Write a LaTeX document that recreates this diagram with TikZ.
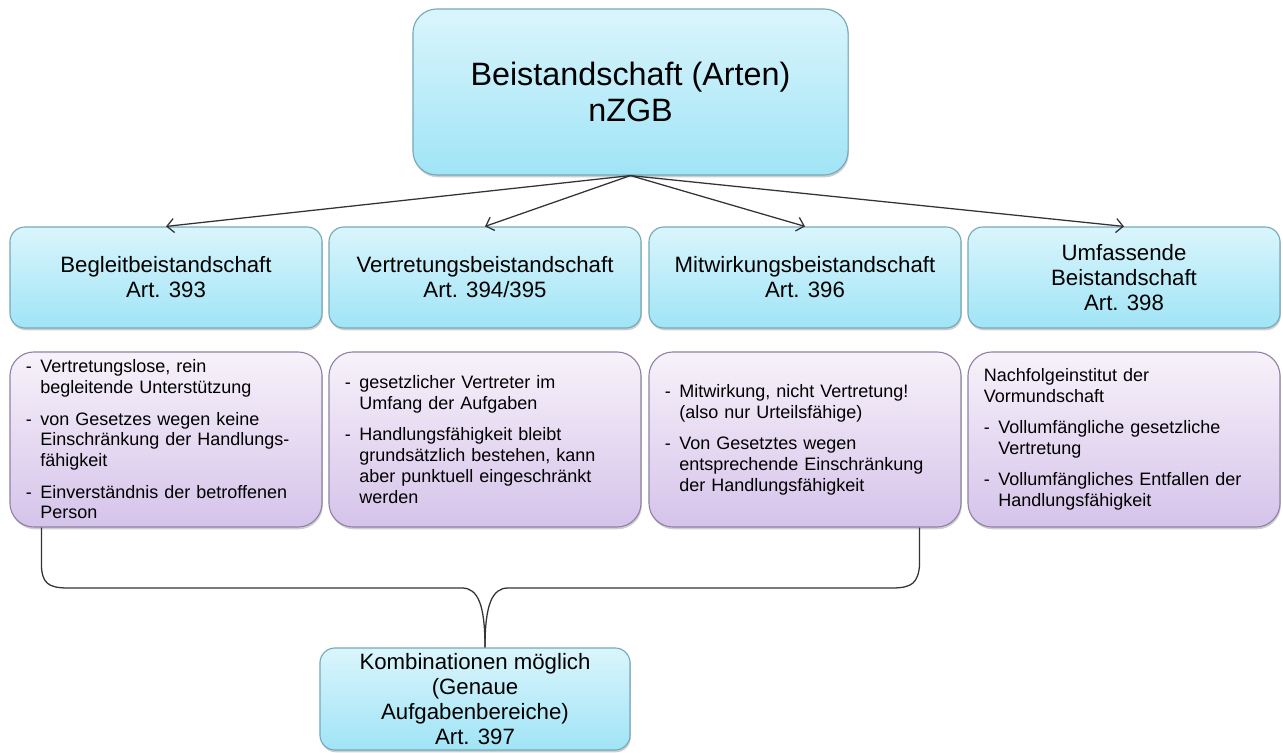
\documentclass[tikz,border=0pt]{standalone}
\usepackage{fontspec}
\setmainfont{Liberation Sans}
\usetikzlibrary{arrows.meta,calc,positioning,shadows}
\definecolor{hdtop}{HTML}{DAF5FC}
\definecolor{hdbot}{HTML}{A0E4F6}
\definecolor{hdline}{HTML}{76A9B7}
\definecolor{pptop}{HTML}{F7F2FA}
\definecolor{ppbot}{HTML}{D5C3EA}
\definecolor{ppline}{HTML}{9082A6}
\definecolor{strich}{HTML}{333333}
\newcommand\dashline[1]{\hangindent=0.8em\hangafter=1\noindent\makebox[0.8em][l]{-}#1\par}
\newcommand\itemgap{\vspace{7.5pt}}
\tikzset{
  schatten/.style={drop shadow={shadow xshift=0.6pt,shadow yshift=-1.6pt,opacity=0.35,fill=black!55}},
  kopf/.style={rounded corners=0.6cm,draw=hdline,line width=0.8pt,top color=hdtop,bottom color=hdbot,schatten,
    minimum width=10.875cm,minimum height=4.15cm,align=center,font=\fontsize{23}{25.5}\selectfont},
  art/.style={rounded corners=0.375cm,draw=hdline,line width=0.8pt,top color=hdtop,bottom color=hdbot,schatten,
    minimum width=7.8cm,minimum height=2.525cm,inner ysep=1pt,align=center,font=\fontsize{15.8}{17.8}\selectfont},
  info/.style={rounded corners=0.6cm,draw=ppline,line width=0.8pt,top color=pptop,bottom color=ppbot,schatten,
    minimum width=7.8cm,minimum height=4.375cm,text width=7.0cm,inner xsep=0.4cm,
    font=\fontsize{12.8}{14.8}\selectfont\raggedright},
  pfeil/.style={draw=strich,line width=0.9pt,-{Straight Barb[length=5pt,width=10pt]}},
  klammer/.style={draw=strich,line width=0.9pt}
}
\begin{document}
\begin{tikzpicture}[x=0.025cm,y=-0.025cm]
\useasboundingbox (0,0) rectangle (1283,753);
\node[kopf] (top) at (630.5,92) {Beistandschaft (Arten)\\nZGB};
\node[art] (h1) at (166,277.5) {Begleitbeistandschaft\\Art. 393};
\node[art] (h2) at (485,277.5) {Vertretungsbeistandschaft\\Art. 394/395};
\node[art] (h3) at (805,277.5) {Mitwirkungsbeistandschaft\\Art. 396};
\node[art] (h4) at (1124,277.5) {Umfassende\\Beistandschaft\\Art. 398};
\node[info] (p1) at (166,439.5) {%
  \dashline{Vertretungslose, rein\newline begleitende Unterstützung}\itemgap
  \dashline{von Gesetzes wegen keine\newline Einschränkung der Handlungs-\newline fähigkeit}\itemgap
  \dashline{Einverständnis der betroffenen\newline Person}};
\node[info] (p2) at (485,439.5) {%
  \dashline{gesetzlicher Vertreter im\newline Umfang der Aufgaben}\itemgap
  \dashline{Handlungsfähigkeit bleibt\newline grundsätzlich bestehen, kann\newline aber punktuell eingeschränkt\newline werden}};
\node[info] (p3) at (805,439.5) {%
  \dashline{Mitwirkung, nicht Vertretung!\newline\ (also nur Urteilsfähige)}\itemgap
  \dashline{Von Gesetztes wegen\newline entsprechende Einschränkung\newline der Handlungsfähigkeit}};
\node[info] (p4) at (1124,439.5) {%
  \noindent Nachfolgeinstitut der\newline Vormundschaft\par\itemgap
  \dashline{Vollumfängliche gesetzliche\newline Vertretung}\itemgap
  \dashline{Vollumfängliches Entfallen der\newline Handlungsfähigkeit}};
\node[art,minimum width=7.75cm,minimum height=2.55cm] (k) at (475,699) {Kombinationen möglich\\(Genaue\\Aufgabenbereiche)\\Art. 397};
\draw[pfeil] (top.south) -- (h1.north);
\draw[pfeil] (top.south) -- (h2.north);
\draw[pfeil] (top.south) -- (h3.north);
\draw[pfeil] (top.south) -- (h4.north);
\coordinate (bl) at ($(p1.south west)+(32,0)$);
\coordinate (br) at ($(p3.south east)+(-42,0)$);
\coordinate (tip) at ($(k.north)+(10,0)$);
\draw[klammer] (bl) -- (bl |- 0,565) .. controls (42,583) and (48,588) .. (68,588) -- (462,588)
  .. controls (478,588) and (485,605) .. (tip);
\draw[klammer] (br) -- (br |- 0,565) .. controls (918,583) and (912,588) .. (892,588) -- (508,588)
  .. controls (492,588) and (485,605) .. (tip);
\end{tikzpicture}
\end{document}
